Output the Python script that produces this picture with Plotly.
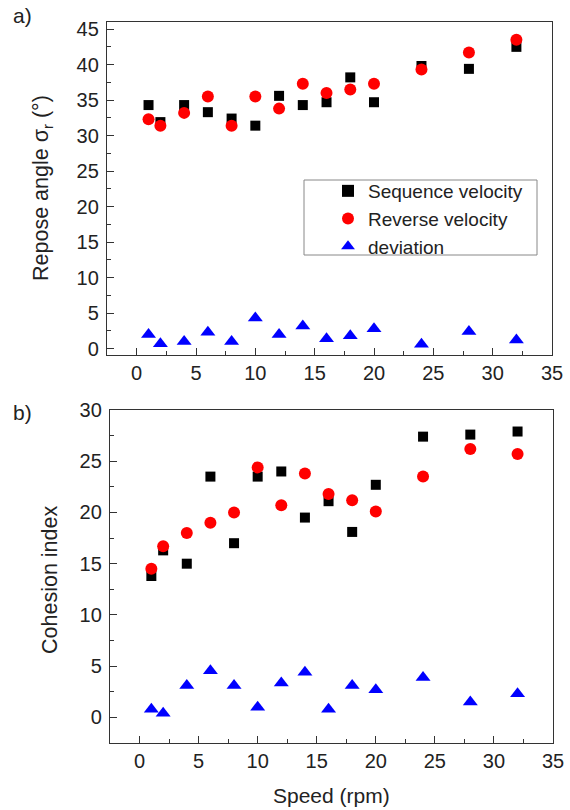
import plotly.graph_objects as go

speed = [1, 2, 4, 6, 8, 10, 12, 14, 16, 18, 20, 24, 28, 32]

repose_seq = [34.3, 31.9, 34.3, 33.3, 32.4, 31.4, 35.6, 34.3, 34.7, 38.2, 34.7, 39.8, 39.4, 42.5]
repose_rev = [32.3, 31.4, 33.2, 35.5, 31.4, 35.5, 33.8, 37.3, 36.0, 36.5, 37.3, 39.3, 41.7, 43.5]
repose_dev = [2.0, 0.7, 1.0, 2.3, 1.0, 4.3, 2.0, 3.2, 1.4, 1.8, 2.8, 0.6, 2.4, 1.2]

coh_seq = [13.8, 16.3, 15.0, 23.5, 17.0, 23.5, 24.0, 19.5, 21.1, 18.1, 22.7, 27.4, 27.6, 27.9]
coh_rev = [14.5, 16.7, 18.0, 19.0, 20.0, 24.4, 20.7, 23.8, 21.8, 21.2, 20.1, 23.5, 26.2, 25.7]
coh_dev = [0.8, 0.4, 3.1, 4.55, 3.1, 1.0, 3.35, 4.4, 0.8, 3.1, 2.7, 3.9, 1.5, 2.3]

series_names = ["Sequence velocity", "Reverse velocity", "deviation"]
x_ticks = [0, 5, 10, 15, 20, 25, 30, 35]
y_ticks_top = [0, 5, 10, 15, 20, 25, 30, 35, 40, 45]
y_ticks_bot = [0, 5, 10, 15, 20, 25, 30]

W, H = 570, 810
FONT = "Liberation Sans, Arial, sans-serif"

styles = [
    dict(symbol="square", size=10, color="black"),
    dict(symbol="circle", size=12, color="#ff0000"),
    dict(symbol="triangle-up", size=13, color="#0000ff"),
]

fig = go.Figure()

for name, ys, st in zip(series_names, [repose_seq, repose_rev, repose_dev], styles):
    fig.add_trace(go.Scatter(x=speed, y=ys, mode="markers", name=name,
                             marker=dict(symbol=st["symbol"], size=st["size"], color=st["color"], line=dict(width=0)),
                             xaxis="x", yaxis="y", showlegend=True))
for name, ys, st in zip(series_names, [coh_seq, coh_rev, coh_dev], styles):
    fig.add_trace(go.Scatter(x=speed, y=ys, mode="markers", name=name,
                             marker=dict(symbol=st["symbol"], size=st["size"], color=st["color"], line=dict(width=0)),
                             xaxis="x2", yaxis="y2", showlegend=False))

axis_common = dict(
    showline=True, linecolor="#333", linewidth=1.4, mirror=True,
    ticks="inside", ticklen=7, tickwidth=1.3, tickcolor="#333",
    showgrid=False, zeroline=False, automargin=False,
    tickfont=dict(family=FONT, size=20, color="#222"),
    minor=dict(ticks="inside", ticklen=4, tickwidth=1.3, tickcolor="#333", showgrid=False),
)

def px_x(p):
    return p / W

def px_y(p):
    return 1 - p / H

fig.update_layout(
    template="none",
    width=W, height=H,
    margin=dict(l=0, r=0, t=0, b=0, pad=0),
    paper_bgcolor="white", plot_bgcolor="white",
    font=dict(family=FONT, color="#222"),
    xaxis=dict(domain=[px_x(107), px_x(552)], range=[-2.5, 35], tickvals=x_ticks,
               anchor="y", minor_dtick=2.5, **axis_common),
    yaxis=dict(domain=[px_y(355), px_y(22)], range=[-0.9, 46], tickvals=y_ticks_top,
               anchor="x", minor_dtick=2.5, ticklabelstandoff=3, **axis_common),
    xaxis2=dict(domain=[px_x(110), px_x(553)], range=[-2.5, 35], tickvals=x_ticks,
                anchor="y2", minor_dtick=2.5, **axis_common),
    yaxis2=dict(domain=[px_y(743), px_y(410)], range=[-2.5, 30], tickvals=y_ticks_bot,
                anchor="x2", minor_dtick=2.5, ticklabelstandoff=3, **axis_common),
    legend=dict(x=px_x(328), y=px_y(219), xanchor="left", yanchor="middle",
                borderwidth=0, bgcolor="rgba(0,0,0,0)",
                font=dict(family=FONT, size=19, color="#222"),
                tracegroupgap=0, itemsizing="constant"),
    showlegend=True,
)

# legend frame
fig.add_shape(type="rect", xref="paper", yref="paper",
              x0=px_x(304), x1=px_x(537), y0=px_y(255), y1=px_y(180),
              line=dict(color="#888", width=1), fillcolor="rgba(0,0,0,0)", layer="below")

annots = [
    dict(text="a)", x=px_x(11), y=px_y(16), xanchor="left", yanchor="middle", size=21),
    dict(text="b)", x=px_x(11), y=px_y(412), xanchor="left", yanchor="middle", size=21),
    dict(text="Speed (rpm)", x=px_x(331), y=px_y(795), xanchor="center", yanchor="middle", size=21),
]
for a in annots:
    fig.add_annotation(text=a["text"], x=a["x"], y=a["y"], xref="paper", yref="paper",
                       xanchor=a["xanchor"], yanchor=a["yanchor"], showarrow=False,
                       font=dict(family=FONT, size=a["size"], color="#222"))

fig.add_annotation(text="Repose angle σ<sub>r</sub> (°)", x=px_x(43), y=px_y(188), xref="paper", yref="paper",
                   textangle=-90, showarrow=False, xanchor="center", yanchor="middle",
                   font=dict(family=FONT, size=21.5, color="#222"))
fig.add_annotation(text="Cohesion index", x=px_x(50), y=px_y(580), xref="paper", yref="paper",
                   textangle=-90, showarrow=False, xanchor="center", yanchor="middle",
                   font=dict(family=FONT, size=21.5, color="#222"))

fig.write_html("out.html", config={"displayModeBar": False},
               post_script="document.body.style.margin='0';document.documentElement.style.overflow='hidden';")
